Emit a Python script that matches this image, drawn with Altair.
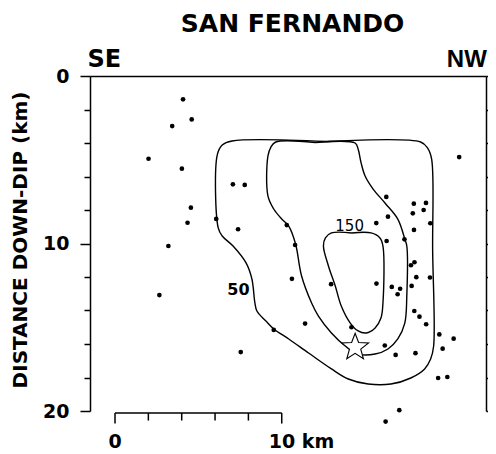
import altair as alt
import pandas as pd

FONT = "DejaVu Sans"

# Aftershock epicentres (km along strike, km down dip)
dot_x = [4.08, 4.60, 3.43, 2.01, 4.01, 7.07, 7.78, 4.55, 4.35, 6.07, 7.38, 3.20, 10.30, 10.80,
         2.66, 9.52, 7.54, 20.64, 16.27, 17.92, 18.65, 17.86, 18.51, 16.37, 15.67, 18.91,
         17.93, 16.29, 17.36, 17.96, 17.75, 18.07, 18.89, 10.61, 12.96, 15.68, 16.60, 17.10,
         16.95, 17.79, 17.95, 18.26, 18.66, 11.40, 14.18, 19.45, 20.31, 16.18, 19.65, 16.83,
         18.02, 19.38, 19.93, 17.05, 16.23]
dot_y = [1.39, 2.59, 2.99, 4.94, 5.53, 6.47, 6.50, 7.86, 8.76, 8.53, 9.15, 10.15, 8.90, 10.09,
         13.08, 15.16, 16.48, 4.84, 7.22, 7.62, 7.58, 8.20, 8.00, 8.40, 8.78, 8.79,
         9.19, 9.85, 9.75, 11.12, 11.30, 12.01, 12.03, 12.11, 12.43, 12.39, 12.59, 12.70,
         13.03, 12.53, 14.03, 14.37, 14.82, 14.78, 15.00, 15.43, 15.68, 16.09, 16.28, 16.65,
         16.55, 18.03, 17.97, 19.95, 20.63]

# Main shock hypocentre
star_x = [14.40]
star_y = [16.20]
STAR = ("M0,-1L0.247,-0.34L0.951,-0.309L0.399,0.13L0.588,0.809L0,0.42L-0.588,0.809"
        "L-0.399,0.13L-0.951,-0.309L-0.247,-0.34Z")

# Slip contours (closed loops, first point repeated at the end)
outer_x = [12.70, 7.02, 6.43, 6.13, 6.19, 6.43, 7.08, 7.86, 8.21, 8.39, 8.51, 9.05, 9.52, 10.42, 11.61,
           12.98, 13.99, 15.18, 16.55, 17.74, 18.57, 18.93, 19.11, 19.05, 18.99, 18.75, 18.33, 12.70]
outer_y = [3.91, 3.88, 4.12, 4.72, 9.07, 9.55, 10.15, 11.16, 12.12, 13.55, 14.03, 14.63, 15.10, 15.70, 16.54,
           17.49, 18.09, 18.39, 18.39, 18.03, 17.49, 16.90, 16.12, 10.39, 4.96, 4.30, 3.94, 3.91]
mid_x = [12.00, 9.64, 9.35, 9.17, 9.17, 9.52, 10.00, 10.42, 10.83, 11.19, 11.79, 12.20, 12.98, 13.81, 14.58,
         15.60, 16.37, 16.96, 17.38, 17.50, 17.50, 17.38, 16.96, 16.19, 15.48, 15.00, 14.76, 14.58, 14.40, 12.00]
mid_y = [3.97, 3.94, 4.24, 4.78, 7.16, 7.94, 8.54, 8.96, 10.03, 11.94, 13.55, 14.33, 15.34, 16.12, 16.60,
         16.60, 16.30, 15.70, 14.75, 13.13, 10.15, 9.73, 8.54, 7.58, 6.75, 5.97, 5.19, 4.36, 4.00, 3.97]
inner_x = [14.20, 15.36, 15.89, 16.07, 16.07, 15.95, 15.60, 15.06, 14.58, 14.11, 13.57, 13.21, 12.80,
           12.50, 12.62, 12.98, 14.20]
inner_y = [9.37, 9.37, 9.67, 10.15, 13.55, 14.45, 15.04, 15.34, 15.22, 14.75, 13.73, 12.54, 11.34,
           10.15, 9.67, 9.37, 9.37]

contour_labels = ["150", "50"]
contour_label_x = [14.07, 7.40]
contour_label_y = [8.93, 12.75]

# Scale bar
bar_x = [0]
bar_x2 = [10]
bar_y = [20.12]
bar_tick_x = [0, 2, 4, 6, 8, 10]
bar_tick_y2 = [20.75, 20.57, 20.57, 20.57, 20.57, 20.75]

y_ticks = list(range(0, 21, 2))

dots = pd.DataFrame({"x": dot_x, "y": dot_y})
star = pd.DataFrame({"x": star_x, "y": star_y})
clabels = pd.DataFrame({"x": contour_label_x, "y": contour_label_y, "t": contour_labels})
bar = pd.DataFrame({"x": bar_x, "x2": bar_x2, "y": bar_y})
bar_ticks = pd.DataFrame({"x": bar_tick_x, "y": [bar_y[0]] * len(bar_tick_x), "y2": bar_tick_y2})

xscale = alt.Scale(domain=[-1.5, 22.25], nice=False, zero=False)
yscale = alt.Scale(domain=[0, 20], reverse=True, nice=False, zero=False)
xaxis = alt.Axis(orient="top", ticks=False, labels=False, domain=True, domainColor="black",
                 domainWidth=1.5, grid=False, title=None)
yaxis_left = alt.Axis(orient="left", values=y_ticks,
                      labelExpr="datum.value % 10 === 0 ? datum.label : ''",
                      tickSize={"condition": {"test": "datum.value % 10 === 0", "value": 10}, "value": 6},
                      labelPadding=11, labelFont=FONT, labelFontWeight="bold", labelFontSize=19,
                      labelColor="black", labelFlush=False, labelOverlap=False,
                      tickColor="black", tickWidth=1.5, domainColor="black", domainWidth=1.5,
                      grid=False, title=None)
yaxis_right = alt.Axis(orient="right", values=y_ticks, labels=False, tickSize=8,
                       tickColor="black", tickWidth=1.5, domainColor="black", domainWidth=1.5,
                       grid=False, title=None)


def X(f="x"):
    return alt.X(f"{f}:Q", scale=xscale, axis=xaxis)


def Y(f="y", axis=yaxis_left):
    return alt.Y(f"{f}:Q", scale=yscale, axis=axis)


def contour(xs, ys):
    df = pd.DataFrame({"i": list(range(len(xs))), "x": xs, "y": ys})
    return alt.Chart(df).mark_line(color="black", strokeWidth=1.4, interpolate="catmull-rom").encode(
        x=X(), y=Y(), order="i:Q")


c_outer = contour(outer_x, outer_y)
c_mid = contour(mid_x, mid_y)
c_inner = contour(inner_x, inner_y)

label_150 = alt.Chart(clabels.iloc[[0]]).mark_text(font=FONT, fontSize=15, color="black",
                                                  align="center", baseline="middle").encode(
    x=X(), y=Y(), text="t:N")
label_50 = alt.Chart(clabels.iloc[[1]]).mark_text(font=FONT, fontSize=16, fontWeight="bold", color="black",
                                                 align="center", baseline="middle").encode(
    x=X(), y=Y(), text="t:N")

bar_line = alt.Chart(bar).mark_rule(color="black", strokeWidth=1.5).encode(
    x=X(), x2="x2:Q", y=Y())
bar_tk = alt.Chart(bar_ticks).mark_rule(color="black", strokeWidth=1.5).encode(
    x=X(), y=Y(), y2="y2:Q")
bar_lab0 = alt.Chart(pd.DataFrame({"x": [0], "y": bar_y})).mark_text(
    text="0", font=FONT, fontSize=19, fontWeight="bold", color="black", align="center",
    baseline="alphabetic", dy=35).encode(x=X(), y=Y())
bar_lab10 = alt.Chart(pd.DataFrame({"x": [10], "y": bar_y})).mark_text(
    text="10 km", font=FONT, fontSize=19, fontWeight="bold", color="black", align="left",
    baseline="alphabetic", dx=-13, dy=35).encode(x=X(), y=Y())

title = alt.Chart(pd.DataFrame({"x": [10.65], "y": [0]})).mark_text(
    text="SAN FERNANDO", font=FONT, fontSize=25, fontWeight="bold", color="black",
    align="center", baseline="alphabetic", dy=-44).encode(x=X(), y=Y())
se = alt.Chart(pd.DataFrame({"x": [-1.65], "y": [0]})).mark_text(
    text="SE", font=FONT, fontSize=24, fontWeight="bold", color="black",
    align="left", baseline="alphabetic", dy=-9).encode(x=X(), y=Y())
nw = alt.Chart(pd.DataFrame({"x": [22.3], "y": [0]})).mark_text(
    text="NW", font="Liberation Sans", fontSize=24, fontWeight="bold", color="black",
    align="right", baseline="alphabetic", dy=-9).encode(x=X(), y=Y())
ytitle = alt.Chart(pd.DataFrame({"x": [-5.25], "y": [9.79]})).mark_text(
    text="DISTANCE DOWN-DIP (km)", font=FONT, fontSize=20, fontWeight="bold", color="black",
    align="center", baseline="alphabetic", angle=270).encode(x=X(), y=Y())

inner = alt.layer(c_outer, c_mid, c_inner, label_150, label_50, bar_line, bar_tk, bar_lab0, bar_lab10,
                  title, se, nw, ytitle)

dots_layer = alt.Chart(dots).mark_circle(color="black", size=22, opacity=1).encode(
    x=X(), y=Y(axis=yaxis_right))
star_layer = alt.Chart(star).mark_point(shape=STAR, size=800, filled=True, fill="white",
                                        stroke="black", strokeWidth=1.1, opacity=1).encode(
    x=X(), y=Y(axis=yaxis_right))

right_part = alt.layer(dots_layer, star_layer)

chart = alt.layer(inner, right_part).resolve_axis(y="independent").properties(
    width=396, height=335,
    autosize=alt.AutoSizeParams(type="none"),
    padding={"left": 82, "top": 68, "right": 2, "bottom": 46},
).configure_view(stroke=None)

chart.save("out.html", embed_options={"renderer": "svg", "actions": False})
